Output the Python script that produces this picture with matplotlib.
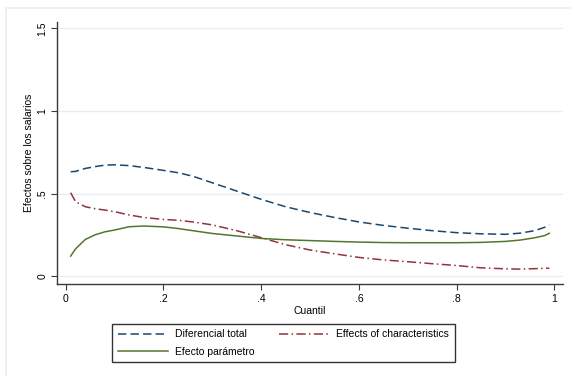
import matplotlib
matplotlib.use("Agg")
import matplotlib.pyplot as plt
from matplotlib.lines import Line2D

plt.rcParams["font.family"] = ["Liberation Sans", "DejaVu Sans"]
plt.rcParams["font.size"] = 7.5

# quantile grid and the three decomposition curves
quantiles = [0.01, 0.02, 0.04, 0.06, 0.08, 0.10, 0.13, 0.16, 0.20, 0.23,
             0.26, 0.30, 0.35, 0.40, 0.45, 0.50, 0.55, 0.60, 0.65, 0.70,
             0.75, 0.80, 0.85, 0.90, 0.93, 0.96, 0.98, 0.99]
diferencial_total = [0.632, 0.634, 0.652, 0.663, 0.672, 0.674, 0.669, 0.658, 0.640, 0.626,
                     0.605, 0.565, 0.515, 0.465, 0.420, 0.385, 0.355, 0.328, 0.307, 0.290,
                     0.275, 0.263, 0.256, 0.253, 0.260, 0.275, 0.295, 0.310]
effects_characteristics = [0.505, 0.450, 0.420, 0.408, 0.400, 0.390, 0.370, 0.355, 0.343, 0.338,
                           0.328, 0.310, 0.275, 0.233, 0.190, 0.158, 0.135, 0.113, 0.098, 0.087,
                           0.075, 0.064, 0.050, 0.044, 0.042, 0.045, 0.047, 0.048]
efecto_parametro = [0.121, 0.165, 0.222, 0.250, 0.268, 0.279, 0.299, 0.303, 0.298, 0.288,
                    0.275, 0.258, 0.243, 0.228, 0.220, 0.215, 0.210, 0.206, 0.203, 0.202,
                    0.202, 0.202, 0.204, 0.210, 0.218, 0.232, 0.245, 0.259]

x_ticks = [0, 0.2, 0.4, 0.6, 0.8, 1]
x_tick_labels = ["0", ".2", ".4", ".6", ".8", "1"]
y_ticks = [0, 0.5, 1, 1.5]
y_tick_labels = ["0", ".5", "1", "1.5"]

NAVY = "#1a476f"
MAROON = "#90353b"
FOREST = "#55752f"
GRID = "#e6eff2"
AXIS = "#3a3a3a"

W, H = 571, 376
fig = plt.figure(figsize=(W / 100, H / 100), dpi=100)
ax = fig.add_axes([57 / W, 1 - 284 / H, (563 - 57) / W, (284 - 22) / H])

# outer stata-style frame (only left and top edges visible)
fig.add_artist(Line2D([6 / W, 6 / W], [0, 1 - 8 / H], color=GRID, lw=1.2))
fig.add_artist(Line2D([6 / W, 1], [1 - 8 / H, 1 - 8 / H], color=GRID, lw=1.2))

line_total, = ax.plot(quantiles, diferencial_total, color=NAVY, lw=1.1,
                      dashes=(5.5, 2.7), label="Diferencial total")
line_char, = ax.plot(quantiles, effects_characteristics, color=MAROON, lw=1.1,
                     dashes=(6, 2.2, 1, 2.2), label="Effects of characteristics")
line_par, = ax.plot(quantiles, efecto_parametro, color=FOREST, lw=1.1,
                    label="Efecto parámetro")

ax.set_xlim(-0.018, 1.018)
ax.set_ylim(-0.048, 1.539)
ax.set_xticks(x_ticks)
ax.set_xticklabels(x_tick_labels)
ax.set_yticks(y_ticks)
ax.set_yticklabels(y_tick_labels, rotation=90, va="center")

ax.grid(axis="y", color=GRID, lw=1.0)
ax.set_axisbelow(True)
for side in ["top", "right"]:
    ax.spines[side].set_visible(False)
for side in ["left", "bottom"]:
    ax.spines[side].set_color(AXIS)
    ax.spines[side].set_linewidth(1.0)
ax.tick_params(axis="both", direction="out", length=4.5, width=0.8, color=AXIS, pad=2.5)

ax.set_xlabel("Cuantil", labelpad=1.5)
ax.set_ylabel("Efectos sobre los salarios", labelpad=2.5)

leg = fig.legend(handles=[line_total, line_par, line_char],
                 loc="center", bbox_to_anchor=(283.5 / W, 1 - 343 / H),
                 ncol=2, frameon=True, fancybox=False, edgecolor="black",
                 handlelength=4.8, handletextpad=0.7, columnspacing=2.3,
                 labelspacing=0.7, borderpad=0.55)
leg.get_frame().set_linewidth(1.0)

fig.savefig("out.png", dpi=100, facecolor="white")
